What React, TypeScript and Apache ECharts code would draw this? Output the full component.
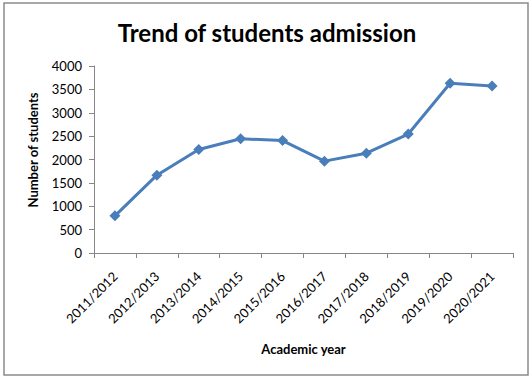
import React, { useEffect, useRef } from "react";
import * as echarts from "echarts";

const categories = [
  "2011/2012", "2012/2013", "2013/2014", "2014/2015", "2015/2016",
  "2016/2017", "2017/2018", "2018/2019", "2019/2020", "2020/2021",
];
const students = [795, 1665, 2215, 2445, 2405, 1965, 2135, 2545, 3630, 3570];
const yTicks = { min: 0, max: 4000, interval: 500 };

const FONT = "Lato, 'Open Sans', sans-serif";

export default function App() {
  const ref = useRef<HTMLDivElement>(null);
  useEffect(() => {
    if (!ref.current) return;
    const chart = echarts.init(ref.current, null, { renderer: "svg" });
    chart.setOption({
      animation: false,
      backgroundColor: "#ffffff",
      graphic: [
        {
          type: "rect",
          shape: { x: 4, y: 3, width: 524, height: 372 },
          style: { fill: "none", stroke: "#8c8c8c", lineWidth: 1.5 },
          silent: true,
        },
        {
          type: "text",
          x: 33,
          y: 150,
          rotation: Math.PI / 2,
          style: {
            text: "Number of students",
            fontFamily: FONT,
            fontSize: 13,
            fontWeight: "bold",
            fill: "#000",
            align: "center",
            verticalAlign: "middle",
          },
          silent: true,
        },
      ],
      title: {
        text: "Trend of students admission",
        left: 262,
        textAlign: "center",
        top: 15,
        textStyle: { fontFamily: FONT, fontSize: 24, fontWeight: "bold", color: "#000" },
      },
      grid: { left: 94, right: 19, top: 66, bottom: 124, containLabel: false },
      xAxis: {
        type: "category",
        data: categories,
        boundaryGap: true,
        name: "Academic year",
        nameLocation: "middle",
        nameGap: 89,
        nameTextStyle: { fontFamily: FONT, fontSize: 13, fontWeight: "bold", color: "#000" },
        axisLine: { lineStyle: { color: "#868686", width: 1 } },
        axisTick: { show: true, alignWithLabel: false, length: 5, lineStyle: { color: "#868686" } },
        axisLabel: {
          rotate: 45,
          interval: 0,
          margin: 21,
          fontFamily: FONT,
          fontSize: 13,
          color: "#000",
        },
        splitLine: { show: false },
      },
      yAxis: {
        type: "value",
        min: yTicks.min,
        max: yTicks.max,
        interval: yTicks.interval,
        axisLine: { show: true, lineStyle: { color: "#868686", width: 1 } },
        axisTick: { show: true, length: 5, lineStyle: { color: "#868686" } },
        axisLabel: {
          fontFamily: FONT,
          fontSize: 13,
          color: "#000",
          margin: 12,
          formatter: (v: number) => String(v),
        },
        splitLine: { show: false },
      },
      series: [
        {
          type: "line",
          data: students,
          symbol: "diamond",
          symbolSize: 11,
          lineStyle: { color: "#4A7EBB", width: 3 },
          itemStyle: { color: "#4A7EBB" },
        },
      ],
    });
    return () => chart.dispose();
  }, []);
  return (
    <div
      ref={ref}
      style={{ position: "fixed", left: 0, top: 0, width: 532, height: 377 }}
    />
  );
}
